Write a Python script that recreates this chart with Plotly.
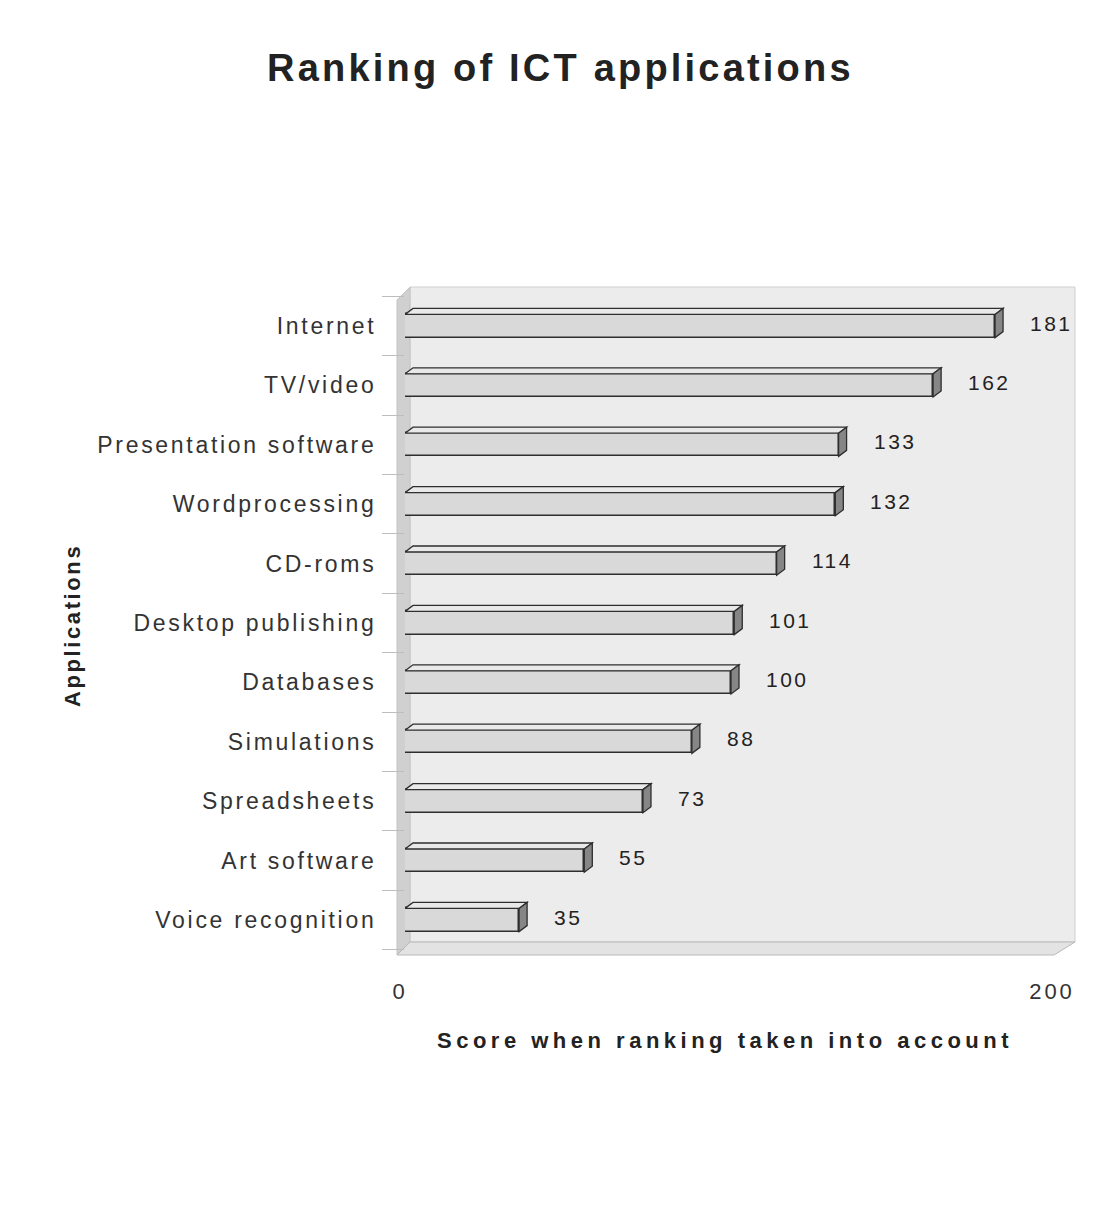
import plotly.graph_objects as go

# Scores for each ICT application (top to bottom)
applications = [
    "Internet", "TV/video", "Presentation software", "Wordprocessing",
    "CD-roms", "Desktop publishing", "Databases", "Simulations",
    "Spreadsheets", "Art software", "Voice recognition",
]
scores = [181, 162, 133, 132, 114, 101, 100, 88, 73, 55, 35]
x_ticks = [0, 200]

# Figure geometry (pixels)
W, H = 1105, 1210
L, R, T, B = 405, 48, 287, 255
PW, PH = W - L - R, H - T - B
ROW = 59.4                      # pixels per category row
Y_TOP = -(326 - T) / ROW        # axis value at top edge of plot area
Y_BOT = Y_TOP + PH / ROW
X_MAX = 200
BAR_W = 0.39
DX = 8 / (PW / X_MAX)           # 3-D depth, horizontal (data units)
DY = 6 / ROW                    # 3-D depth, vertical (data units)

FONT = "Liberation Sans, Arial, sans-serif"
INK = "#222222"
EDGE = "#2e2e2e"


def spaced(text, px):
    return f'<span style="letter-spacing:{px}px">{text}</span>'


def px2paper(x, y):
    return (x - L) / PW, (H - B - y) / PH


def poly(points):
    pts = [px2paper(x, y) for x, y in points]
    return "M " + " L ".join(f"{a:.5f},{b:.5f}" for a, b in pts) + " Z"


ypos = list(range(len(applications)))

fig = go.Figure()
fig.add_trace(go.Bar(
    x=scores, y=ypos, orientation="h", width=BAR_W,
    marker=dict(color="#d9d9d9", line=dict(color=EDGE, width=1.5)),
    hoverinfo="x+text", hovertext=applications, showlegend=False,
))

shapes = []
# walls and floor of the 3-D box
shapes.append(dict(type="path", xref="paper", yref="paper", layer="below",
                   path=poly([(410, 287), (1075, 287), (1075, 942), (410, 942)]),
                   fillcolor="#ececec", line=dict(color="#cfcfcf", width=1)))
shapes.append(dict(type="path", xref="paper", yref="paper", layer="below",
                   path=poly([(397, 300), (410, 287), (410, 942), (397, 955)]),
                   fillcolor="#d0d0d0", line=dict(color="#c4c4c4", width=1)))
shapes.append(dict(type="path", xref="paper", yref="paper", layer="below",
                   path=poly([(397, 955), (410, 942), (1075, 942), (1054, 955)]),
                   fillcolor="#e3e3e3", line=dict(color="#b8b8b8", width=1)))

# top and end faces of each bar
for i, v in zip(ypos, scores):
    top = i - BAR_W / 2
    bot = i + BAR_W / 2
    shapes.append(dict(
        type="path", xref="x", yref="y", layer="above",
        path=(f"M 0,{top} L {v},{top} L {v + DX},{top - DY} "
              f"L {DX},{top - DY} Z"),
        fillcolor="#e9e9e9", line=dict(color=EDGE, width=1.3)))
    shapes.append(dict(
        type="path", xref="x", yref="y", layer="above",
        path=(f"M {v},{top} L {v + DX},{top - DY} L {v + DX},{bot - DY} "
              f"L {v},{bot} Z"),
        fillcolor="#868686", line=dict(color=EDGE, width=1.3)))

annotations = []
# value labels
for i, v in zip(ypos, scores):
    annotations.append(dict(
        x=v, y=i, xref="x", yref="y", xanchor="left", yanchor="middle",
        xshift=33, yshift=3, showarrow=False,
        text=spaced(str(v), 2.5), font=dict(family=FONT, size=21, color=INK)))

# chart title
tx, ty = px2paper(560, 68)
annotations.append(dict(
    x=tx, y=ty, xref="paper", yref="paper", xanchor="center", yanchor="middle",
    showarrow=False, text=spaced("Ranking of ICT applications", 3.2),
    font=dict(family=FONT, size=38, color=INK, weight="bold")))
# axis titles
ax, ay = px2paper(725, 1040)
annotations.append(dict(
    x=ax, y=ay, xref="paper", yref="paper", xanchor="center", yanchor="middle",
    showarrow=False, text=spaced("Score when ranking taken into account", 4.5),
    font=dict(family=FONT, size=22, color=INK, weight="bold")))
vx, vy = px2paper(72, 625)
annotations.append(dict(
    x=vx, y=vy, xref="paper", yref="paper", xanchor="center", yanchor="middle",
    showarrow=False, textangle=-90, text=spaced("Applications", 2.6),
    font=dict(family=FONT, size=22, color=INK, weight="bold")))

fig.update_layout(
    width=W, height=H,
    margin=dict(l=L, r=R, t=T, b=B, pad=0),
    paper_bgcolor="white", plot_bgcolor="white",
    shapes=shapes, annotations=annotations,
    bargap=0,
    xaxis=dict(
        range=[0, X_MAX], tickvals=x_ticks,
        ticktext=[spaced(str(t), 3) for t in x_ticks],
        ticks="outside", ticklen=17, tickcolor="rgba(0,0,0,0)",
        ticklabelshift=-5,
        showgrid=False, zeroline=False, showline=False,
        tickfont=dict(family=FONT, size=22, color="#333333"),
        fixedrange=True,
    ),
    yaxis=dict(
        range=[Y_BOT, Y_TOP], tickvals=ypos,
        ticktext=[spaced(a, 2.7) for a in applications],
        ticks="outside", ticklen=23, tickcolor="rgba(0,0,0,0)",
        minor=dict(ticks="outside", tickmode="array",
                   tickvals=[i + 0.5 for i in ypos[:-1]] + [ypos[0] - 0.5, ypos[-1] + 0.5],
                   ticklen=22, tickcolor="#bdbdbd", tickwidth=1),
        showgrid=False, zeroline=False, showline=False,
        tickfont=dict(family=FONT, size=23, color="#333333"),
        fixedrange=True,
    ),
)

fig.write_html("out.html")
